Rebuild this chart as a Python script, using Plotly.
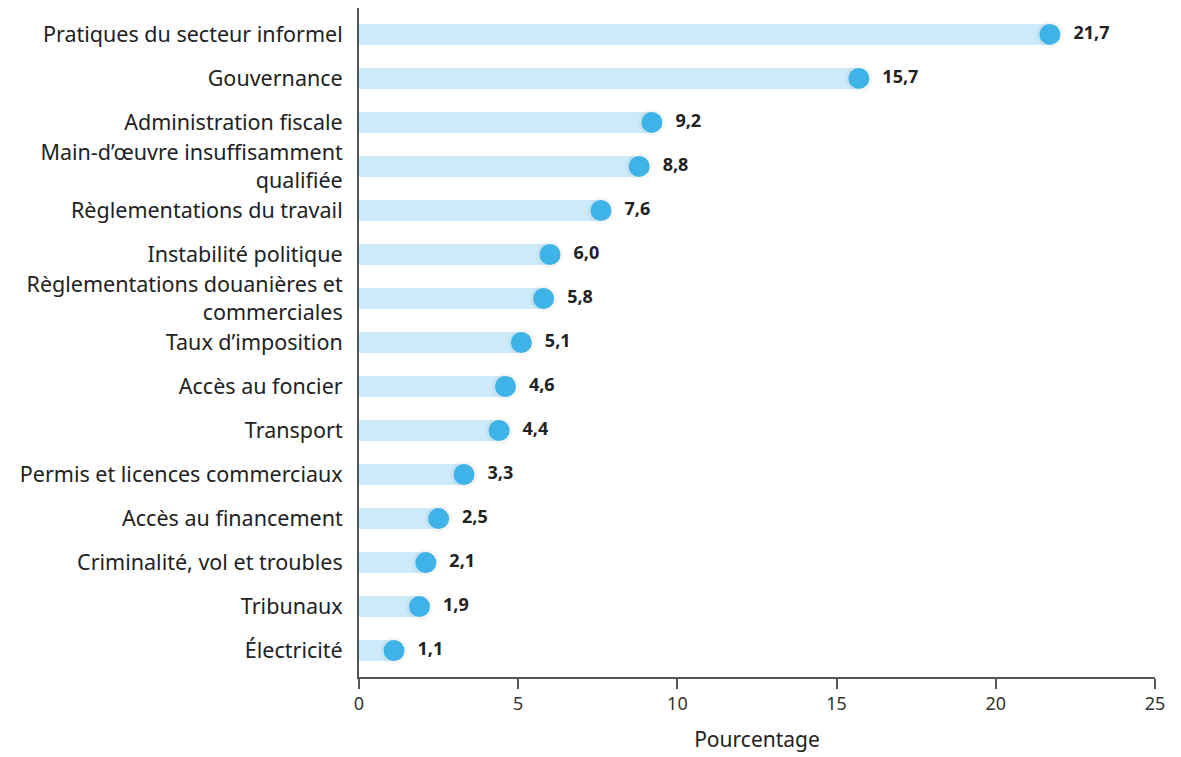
import plotly.graph_objects as go

categories = [
    "Pratiques du secteur informel",
    "Gouvernance",
    "Administration fiscale",
    "Main-d’œuvre insuffisamment<br>qualifiée",
    "Règlementations du travail",
    "Instabilité politique",
    "Règlementations douanières et<br>commerciales",
    "Taux d’imposition",
    "Accès au foncier",
    "Transport",
    "Permis et licences commerciaux",
    "Accès au financement",
    "Criminalité, vol et troubles",
    "Tribunaux",
    "Électricité",
]
values = [21.7, 15.7, 9.2, 8.8, 7.6, 6.0, 5.8, 5.1, 4.6, 4.4, 3.3, 2.5, 2.1, 1.9, 1.1]
x_ticks = [0, 5, 10, 15, 20, 25]

labels = ["  " + f"{v:.1f}".replace(".", ",") for v in values]
FONT = "Noto Sans, Open Sans, sans-serif"

fig = go.Figure()

# pale bars from zero to each value
fig.add_trace(go.Bar(
    x=values, y=categories, orientation="h",
    marker=dict(color="#cceaf8", line=dict(width=0)),
    width=0.46, hoverinfo="skip", showlegend=False,
))

# faint shadow behind each dot
fig.add_trace(go.Scatter(
    x=values, y=categories, mode="markers",
    marker=dict(size=27, color="rgba(0,0,0,0.035)", line=dict(width=0)),
    hoverinfo="skip", showlegend=False,
))

# dots with value labels
fig.add_trace(go.Scatter(
    x=values, y=categories, mode="markers+text",
    marker=dict(size=21, color="#3db3e8", line=dict(width=0)),
    text=labels, textposition="middle right",
    textfont=dict(family=FONT, size=18, color="#222222", weight="bold"),
    cliponaxis=False, showlegend=False,
))

fig.update_layout(
    width=1181, height=757,
    margin=dict(l=359, r=26, t=8, b=80),
    paper_bgcolor="white", plot_bgcolor="white",
    font=dict(family=FONT, color="#222222"),
    bargap=0,
)

fig.update_xaxes(
    range=[0, 25], tickvals=x_ticks, ticktext=[str(t) for t in x_ticks],
    showgrid=False, zeroline=False,
    showline=True, linecolor="#555555", linewidth=1.5,
    ticks="outside", ticklen=10, tickwidth=1.5, tickcolor="#555555",
    tickfont=dict(size=18, family=FONT, color="#333333"),
    title=dict(text="Pourcentage", font=dict(size=21, family=FONT, color="#222222"), standoff=18),
)

fig.update_yaxes(
    categoryorder="array", categoryarray=categories[::-1],
    range=[-0.6, 14.6],
    showgrid=False, zeroline=False,
    showline=True, linecolor="#555555", linewidth=2,
    ticks="", ticklen=0, ticklabelstandoff=10,
    tickfont=dict(size=21.5, family=FONT, color="#222222"),
)

fig.write_html("out.html")
